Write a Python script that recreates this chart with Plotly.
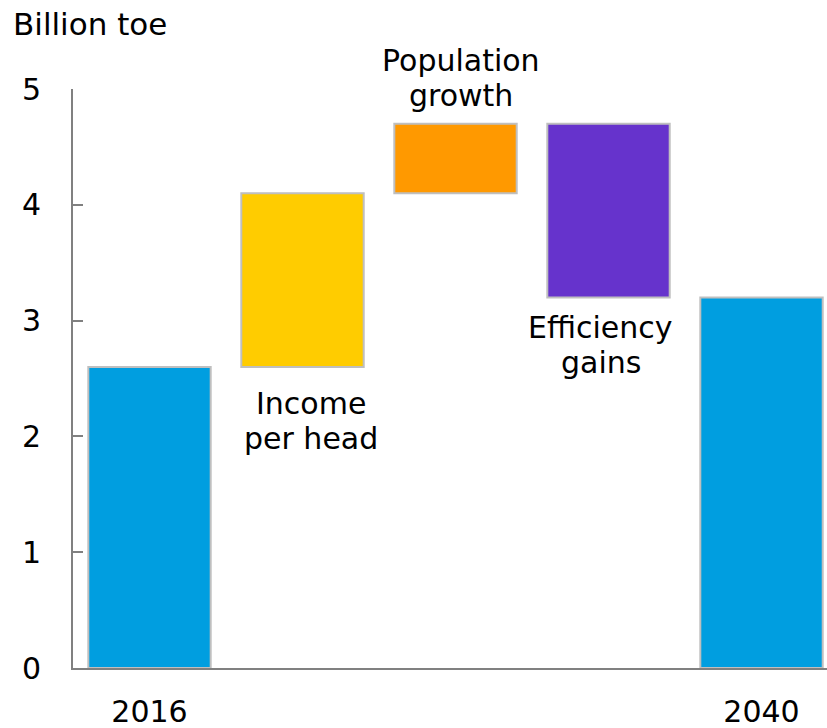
import plotly.graph_objects as go

categories = ["2016", "Income per head", "Population growth", "Efficiency gains", "2040"]
label_lines = [[], ["Income", "per head"], ["Population", "growth"], ["Efficiency", "gains"], []]
changes = [2.6, 1.5, 0.6, -1.5, 3.2]
is_total = [True, False, False, False, True]
colors = ["#009EE0", "#FFCC00", "#FF9900", "#6633CC", "#009EE0"]
tick_labels = ["2016", "", "", "", "2040"]
y_ticks = [0, 1, 2, 3, 4, 5]

bases, heights = [], []
running = 0.0
for c, tot in zip(changes, is_total):
    if tot:
        bases.append(0.0)
        heights.append(c)
        running = c
    else:
        lo = min(running, running + c)
        bases.append(lo)
        heights.append(abs(c))
        running += c

x = list(range(len(categories)))
FONT = "DejaVu Sans, sans-serif"
FS = 30
TXT = "#000000"

fig = go.Figure(go.Bar(
    x=x, y=heights, base=bases, width=0.8,
    marker=dict(color=colors, line=dict(color="#BFBFBF", width=2)),
    hoverinfo="skip",
))

# label placement: above bar for population, below bar otherwise (pixel offsets of each line)
label_offsets = {1: (-37, -72), 2: (63, 28), 3: (-30, -65)}
label_xshift = {1: 8, 2: 5, 3: -8}
annotations = []
for i, lines in enumerate(label_lines):
    if not lines:
        continue
    anchor_y = bases[i] + heights[i] if i == 2 else bases[i]
    for line, off in zip(lines, label_offsets[i]):
        annotations.append(dict(x=i, y=anchor_y, text=line, showarrow=False,
                                xanchor="center", yanchor="middle", yshift=off,
                                xshift=label_xshift[i],
                                font=dict(size=FS, color=TXT, family=FONT)))

fig.update_layout(
    width=827, height=728,
    margin=dict(l=73, r=0, t=89, b=60, pad=0, autoexpand=False),
    paper_bgcolor="white", plot_bgcolor="white",
    font=dict(family=FONT, size=FS, color=TXT),
    showlegend=False,
    title=dict(text="Billion toe", x=13/827, xanchor="left", xref="container",
               y=1 - 24/728, yanchor="middle", font=dict(size=31, color=TXT)),
    annotations=annotations,
    xaxis=dict(range=[-0.5, 4.428], tickvals=x, ticktext=tick_labels, showgrid=False,
               zeroline=False, showline=True, linecolor="#808080", linewidth=2,
               ticks="", ticklabelstandoff=16, automargin=False, fixedrange=True),
    yaxis=dict(range=[0, 5], tickvals=y_ticks, showgrid=False, zeroline=False,
               showline=True, linecolor="#808080", linewidth=2, ticks="inside",
               ticklen=10, tickwidth=2, tickcolor="#808080", ticklabelstandoff=24,
               automargin=False, fixedrange=True),
)

fig.write_html("out.html", config={"displayModeBar": False},
               post_script="document.body.style.margin='0';document.body.style.padding='0';")
